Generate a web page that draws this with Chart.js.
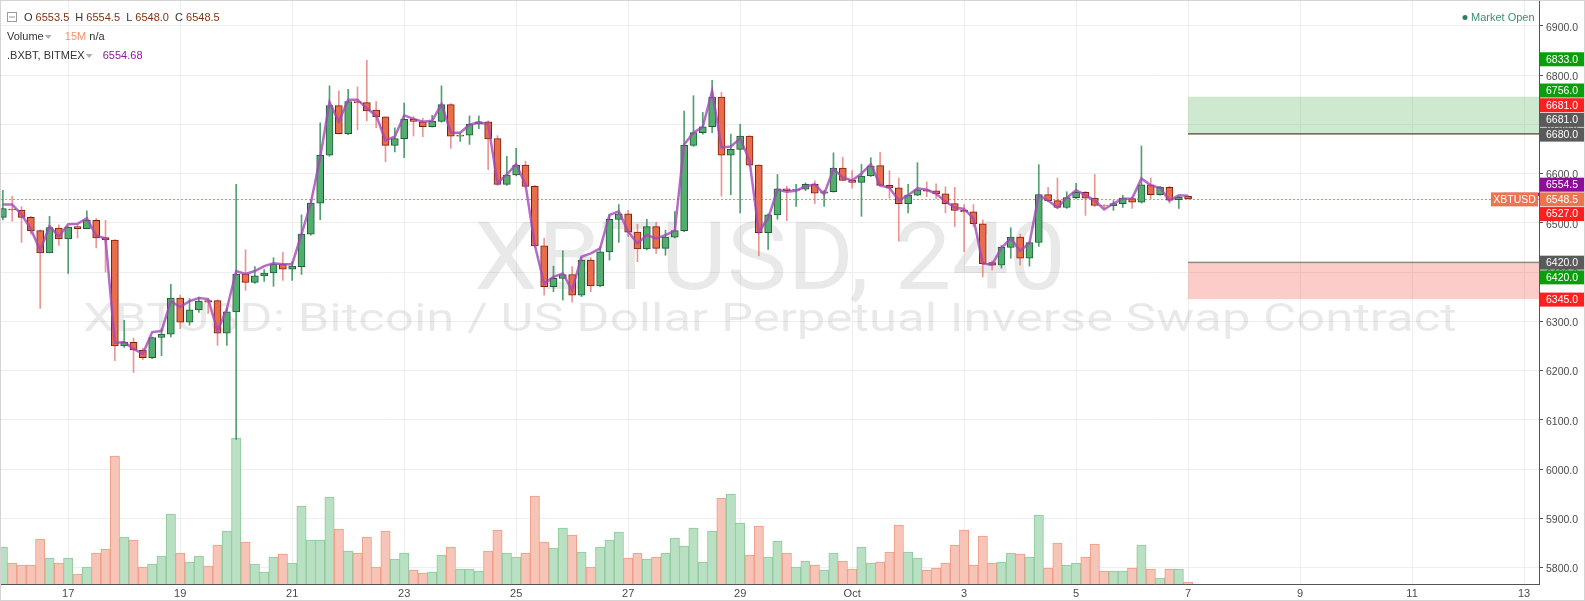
<!DOCTYPE html>
<html>
<head>
<meta charset="utf-8">
<script src="https://cdn.jsdelivr.net/npm/chart.js@4.4.1/dist/chart.umd.min.js"></script>
<style>
html, body { margin: 0; padding: 0; background: #fff; }
#wrap { width: 1585px; height: 601px; position: relative; }
</style>
</head>
<body>
<div id="wrap"><canvas id="chart"></canvas></div>
<script>
// XBTUSD 4h candles, Sep 15 20:00 -> Oct 7 00:00 (index 0 = first bar)
var opens = [6511,6528,6526,6511,6484,6439,6489,6467,6492,6488,
  6505,6470,6465,6250,6257,6241,6226,6267,6274,6347,
  6298,6323,6342,6342,6276,6319,6396,6379,6392,6398,
  6416,6406,6411,6477,6540,6637,6738,6681,6746,6744,
  6729,6715,6657,6671,6710,6705,6695,6706,6740,6676,
  6678,6700,6705,6671,6578,6597,6617,6574,6453,6370,
  6387,6395,6353,6424,6372,6441,6507,6518,6481,6447,
  6492,6448,6471,6484,6657,6683,6695,6755,6637,6649,
  6676,6617,6480,6516,6569,6566,6568,6578,6560,6563,
  6611,6586,6582,6595,6616,6576,6571,6539,6556,6567,
  6565,6559,6539,6525,6522,6498,6419,6414,6450,6471,
  6428,6460,6557,6545,6531,6551,6562,6550,6535,6534,
  6539,6549,6542,6577,6557,6572,6547,6553.5];
var highs = [6566,6554,6533,6513,6486,6513,6496,6492,6496,6524,
  6509,6505,6466,6302,6266,6245,6268,6285,6375,6353,
  6346,6349,6344,6344,6328,6578,6445,6411,6405,6429,
  6440,6421,6516,6546,6703,6778,6768,6771,6776,6830,
  6746,6715,6693,6743,6716,6712,6718,6778,6742,6682,
  6717,6717,6707,6677,6635,6651,6625,6576,6469,6412,
  6443,6411,6430,6429,6451,6516,6537,6525,6497,6507,
  6501,6485,6523,6727,6758,6724,6789,6765,6680,6700,
  6677,6618,6518,6598,6574,6578,6581,6585,6566,6642,
  6633,6606,6619,6632,6643,6606,6591,6578,6622,6583,
  6579,6573,6572,6537,6537,6506,6422,6454,6490,6477,
  6461,6618,6572,6591,6563,6580,6564,6598,6537,6545,
  6556,6552,6656,6591,6574,6574,6554,6554.5];
var lows = [6506,6503,6460,6477,6326,6439,6454,6397,6469,6488,
  6449,6400,6220,6247,6196,6222,6224,6230,6268,6285,
  6292,6318,6316,6251,6251,6060,6363,6377,6381,6371,
  6383,6383,6395,6475,6506,6635,6680,6679,6689,6707,
  6693,6624,6644,6632,6676,6675,6694,6704,6651,6665,
  6659,6691,6608,6576,6576,6595,6572,6450,6353,6360,
  6343,6339,6350,6360,6370,6424,6460,6472,6421,6445,
  6438,6434,6469,6482,6655,6680,6683,6554,6557,6520,
  6615,6433,6446,6507,6504,6533,6565,6539,6533,6562,
  6585,6570,6513,6594,6575,6550,6463,6520,6555,6553,
  6549,6520,6492,6441,6492,6390,6404,6408,6428,6414,
  6412,6452,6543,6529,6529,6549,6515,6533,6529,6525,
  6531,6529,6540,6549,6556,6540,6529,6548];
var closes = [6529,6526,6511,6484,6439,6490,6467,6491,6488,6505,
  6469,6465,6250,6257,6242,6226,6267,6274,6347,6298,
  6323,6341,6339,6276,6319,6396,6379,6392,6398,6416,
  6406,6412,6477,6540,6637,6738,6681,6746,6744,6727,
  6715,6657,6671,6710,6706,6695,6706,6740,6676,6678,
  6700,6705,6670,6578,6597,6617,6574,6453,6370,6387,
  6395,6353,6424,6372,6441,6507,6518,6481,6447,6492,
  6448,6471,6484,6657,6683,6695,6755,6637,6649,6676,
  6617,6480,6516,6569,6565,6568,6578,6560,6563,6611,
  6586,6582,6595,6615,6576,6571,6539,6556,6567,6564,
  6559,6539,6525,6522,6498,6417,6414,6450,6471,6428,
  6460,6557,6545,6531,6551,6562,6550,6535,6534,6539,
  6550,6542,6577,6557,6572,6546,6552,6548.5];
// volume per bar (relative units)
var volumes = [37,21,19,19,45,26,21,26,10,17,
  31,35,128,47,44,17,20,28,70,31,
  22,28,18,39,53,146,42,20,12,27,
  30,21,78,44,44,87,55,33,31,47,
  17,53,25,31,14,11,12,29,37,15,
  15,13,33,54,31,27,31,88,42,36,
  56,49,32,17,37,44,52,26,31,25,
  27,31,46,38,56,22,53,86,90,61,
  29,58,27,43,31,17,23,19,14,31,
  23,15,37,21,22,32,59,32,26,14,
  16,21,39,54,19,48,21,22,31,30,
  27,69,16,41,19,21,27,40,13,13,
  13,16,39,15,6,15,15,2];
// .BXBT index
var bxbt = [6537,6537,6517,6487,6444,6493,6472,6497,6498,6509,
  6474,6468,6256,6258,6244,6234,6278,6280,6341,6329,
  6341,6347,6345,6280,6325,6402,6396,6402,6412,6418,
  6416,6416,6477,6540,6632,6745,6705,6750,6750,6732,
  6718,6667,6675,6718,6711,6705,6707,6741,6683,6683,
  6699,6704,6700,6581,6598,6619,6578,6455,6376,6390,
  6397,6363,6431,6438,6448,6516,6523,6482,6458,6475,
  6468,6475,6484,6659,6683,6695,6768,6653,6655,6671,
  6627,6482,6509,6567,6563,6565,6574,6578,6558,6609,
  6592,6586,6600,6619,6576,6571,6545,6556,6570,6567,
  6559,6543,6531,6528,6509,6417,6415,6449,6468,6443,
  6459,6556,6545,6531,6551,6566,6556,6545,6527,6539,
  6549,6549,6590,6576,6571,6545,6556,6554.68];

var dayLabels = ['17','19','21','23','25','27','29','Oct','3','5','7','9','11','13'];
var firstLabelBar = 7;     // Sep 17 00:00
var barsPerLabel = 12;     // two days of 4h bars

// price tags on the right scale (placement order)
var tagPrices = [6680, 6548.5, 6420, 6681, 6681, 6756, 6833, 6554.5, 6527, 6420, 6345];
var tagColors = ['#5a5a5a','#ec7550','#5a5a5a','#5a5a5a','#ff1f1f','#0a9f0a','#0a9f0a','#8c0f98','#ff1f1f','#0a9f0a','#ff1f1f'];
var targetZone = [6680, 6756];
var stopZone = [6345, 6420];

var idx = closes.map(function(_, i) { return i; });
var last = closes.length - 1;
function up(i) { return closes[i] >= opens[i]; }

var TAG_H = 14.7;
function layoutTags(ys) {
  var placed = [];
  tagPrices.forEach(function(p, k) {
    var y = ys.getPixelForValue(p), dir = 0, n = 0;
    while (n++ < 20) {
      var hit = placed.find(function(t) { return Math.abs(t.y - y) < TAG_H - 0.01; });
      if (!hit) break;
      if (p > hit.price) dir = -1;
      else if (p < hit.price) dir = 1;
      else if (dir === 0) dir = 1;
      y = hit.y + dir * TAG_H;
    }
    placed.push({ price: p, y: y, color: tagColors[k] });
  });
  return placed;
}

function drawParts(ctx, x, y, parts) {
  parts.forEach(function(p) {
    if (p[0] === '▾') {
      ctx.fillStyle = '#b0b0b0';
      ctx.beginPath();
      ctx.moveTo(x + 1, y - 2); ctx.lineTo(x + 8, y - 2); ctx.lineTo(x + 4.5, y + 2);
      ctx.closePath(); ctx.fill();
      x += 12;
      return;
    }
    ctx.fillStyle = p[1];
    ctx.fillText(p[0], x, y);
    x += ctx.measureText(p[0]).width;
  });
}

function noPad(s) {
  s.paddingTop = 0; s.paddingBottom = 0; s.paddingLeft = 0; s.paddingRight = 0;
}

var decor = {
  id: 'decor',
  beforeDraw: function(chart) {
    var ctx = chart.ctx;
    ctx.save();
    ctx.fillStyle = '#ffffff';
    ctx.fillRect(0, 0, chart.width, chart.height);
    ctx.restore();
  },
  beforeDatasetsDraw: function(chart) {
    var ctx = chart.ctx, a = chart.chartArea;
    var xs = chart.scales.x, ys = chart.scales.y;
    var cx = (a.left + a.right) / 2, mid = (a.top + a.bottom) / 2;
    ctx.save();
    // watermark
    ctx.fillStyle = 'rgba(0,0,0,0.085)';
    ctx.textAlign = 'center';
    ctx.textBaseline = 'alphabetic';
    [['XBTUSD, 240', 95, 592, mid - 4],
     ['XBTUSD: Bitcoin / US Dollar Perpetual Inverse Swap Contract', 38, 1374, mid + 38]].forEach(function(w) {
      ctx.font = w[1] + 'px Roboto';
      var sx = w[2] / ctx.measureText(w[0]).width;
      ctx.save();
      ctx.translate(cx, w[3]);
      ctx.scale(sx, 1);
      ctx.fillText(w[0], 0, 0);
      ctx.restore();
    });
    // zones
    var zx = xs.getPixelForValue(last);
    var gy1 = ys.getPixelForValue(targetZone[1]), gy0 = ys.getPixelForValue(targetZone[0]);
    ctx.fillStyle = 'rgba(76,175,80,0.27)';
    ctx.fillRect(zx, gy1, a.right - zx, gy0 - gy1);
    ctx.fillStyle = '#7a5a4c';
    ctx.fillRect(zx, gy0 - 1, a.right - zx, 1.5);
    var ry1 = ys.getPixelForValue(stopZone[1]), ry0 = ys.getPixelForValue(stopZone[0]);
    ctx.fillStyle = 'rgba(244,67,54,0.27)';
    ctx.fillRect(zx, ry1, a.right - zx, ry0 - ry1);
    ctx.fillStyle = '#8c8c80';
    ctx.fillRect(zx, ry1 - 0.5, a.right - zx, 1.5);
    // last price line
    var py = Math.round(ys.getPixelForValue(closes[last])) + 0.5;
    ctx.strokeStyle = '#f0876a';
    ctx.lineWidth = 1;
    ctx.setLineDash([2, 2]);
    ctx.beginPath(); ctx.moveTo(a.left, py); ctx.lineTo(a.right, py); ctx.stroke();
    ctx.restore();
  },
  afterDraw: function(chart) {
    var ctx = chart.ctx, a = chart.chartArea, ys = chart.scales.y;
    ctx.save();
    // index marker near the scale
    var iy = ys.getPixelForValue(bxbt[last]);
    ctx.fillStyle = '#8c0f98';
    ctx.fillRect(a.right - 36, iy - 3, 36, 3);
    // tags
    ctx.font = '10.5px "Liberation Sans"';
    ctx.textBaseline = 'middle';
    var tags = layoutTags(ys);
    tags.forEach(function(t) {
      ctx.fillStyle = t.color;
      ctx.fillRect(a.right + 1, t.y - 6.5, chart.width - a.right - 1, 14);
      ctx.fillStyle = '#ffffff';
      ctx.textAlign = 'left';
      ctx.fillText(t.price.toFixed(1), a.right + 7, t.y + 1);
    });
    var main = tags[1];
    ctx.fillStyle = main.color;
    ctx.fillRect(a.right - 48, main.y - 6.5, 47, 14);
    ctx.fillStyle = '#ffffff';
    ctx.textAlign = 'center';
    ctx.fillText('XBTUSD', a.right - 24.5, main.y + 1);
    // legend header
    ctx.textAlign = 'left';
    ctx.font = '11px "Liberation Sans"';
    ctx.strokeStyle = '#9a9a9a';
    ctx.lineWidth = 1;
    ctx.strokeRect(7.5, 12.5, 9, 9);
    ctx.beginPath(); ctx.moveTo(9, 17); ctx.lineTo(15, 17); ctx.stroke();
    var val = '#7b3414', txt = '#333333';
    drawParts(ctx, 24, 18, [['O ', txt], [opens[last].toFixed(1), val], ['  H ', txt], [highs[last].toFixed(1), val],
      ['  L ', txt], [lows[last].toFixed(1), val], ['  C ', txt], [closes[last].toFixed(1), val]]);
    drawParts(ctx, 7, 37, [['Volume', txt], ['▾'], ['   ', txt], ['15M', '#f7916c'], [' n/a', txt]]);
    drawParts(ctx, 7, 56, [['.BXBT, BITMEX', txt], ['▾'], ['  ', txt], [bxbt[last].toFixed(2), '#8c1a9a']]);
    // market status
    ctx.fillStyle = '#2f7d5c';
    ctx.beginPath(); ctx.arc(1465, 17.5, 2.5, 0, Math.PI * 2); ctx.fill();
    ctx.fillStyle = '#3c8f73';
    ctx.fillText('Market Open', 1471, 18);
    // frame
    ctx.strokeStyle = '#d4d4d4';
    ctx.strokeRect(0.5, 0.5, chart.width - 1, chart.height - 1);
    ctx.restore();
  }
};

new Chart(document.getElementById('chart'), {
  type: 'bar',
  data: {
    datasets: [{
      label: 'Volume',
      data: idx.map(function(i) { return { x: i, y: volumes[i] }; }),
      yAxisID: 'yv',
      backgroundColor: function(c) { return up(c.dataIndex) ? '#b9e0c3' : '#f7c5b7'; },
      borderColor: function(c) { return up(c.dataIndex) ? '#8dca9c' : '#f09a82'; },
      borderWidth: 1,
      barPercentage: 1,
      categoryPercentage: 1,
      grouped: false,
      order: 4
    }, {
      label: 'Wicks',
      data: idx.map(function(i) { return { x: i, y: [lows[i], highs[i]] }; }),
      yAxisID: 'y',
      backgroundColor: function(c) { return up(c.dataIndex) ? 'rgba(40,135,75,0.8)' : 'rgba(226,92,92,0.65)'; },
      barThickness: 1,
      grouped: false,
      order: 3
    }, {
      label: 'XBTUSD',
      data: idx.map(function(i) { return { x: i, y: [opens[i], closes[i]] }; }),
      yAxisID: 'y',
      backgroundColor: function(c) { return up(c.dataIndex) ? '#52ae6e' : '#e96d4a'; },
      borderColor: function(c) { return up(c.dataIndex) ? '#1e5c34' : '#7a1f0f'; },
      borderWidth: 1,
      borderSkipped: false,
      barThickness: 7,
      grouped: false,
      order: 2
    }, {
      type: 'line',
      label: '.BXBT',
      data: idx.map(function(i) { return { x: i, y: bxbt[i] }; }),
      yAxisID: 'y',
      borderColor: 'rgba(165,70,185,0.8)',
      borderWidth: 2.5,
      pointRadius: 0,
      tension: 0,
      order: 1
    }]
  },
  options: {
    responsive: true,
    maintainAspectRatio: false,
    animation: false,
    events: [],
    layout: { padding: { top: 1, left: 1, right: 0, bottom: 0 } },
    plugins: { legend: { display: false }, tooltip: { enabled: false } },
    scales: {
      x: {
        type: 'linear',
        min: -0.2,
        max: 164.6,
        offset: false,
        afterBuildTicks: function(s) {
          s.ticks = dayLabels.map(function(_, k) { return { value: firstLabelBar + k * barsPerLabel }; });
        },
        ticks: {
          autoSkip: false,
          maxRotation: 0,
          padding: 3,
          color: '#4a4a4a',
          font: { family: 'Liberation Sans', size: 11 },
          callback: function(v) { return dayLabels[Math.round((v - firstLabelBar) / barsPerLabel)]; }
        },
        grid: { color: '#eeeeee', drawTicks: false, offset: false },
        border: { color: '#555555', width: 1 },
        afterFit: function(s) { s.height = 17; noPad(s); }
      },
      y: {
        type: 'linear',
        position: 'right',
        min: 5766.5,
        max: 6950.3,
        ticks: {
          stepSize: 100,
          includeBounds: false,
          padding: 3,
          labelOffset: 2,
          color: '#4a4a4a',
          font: { family: 'Liberation Sans', size: 10.5 },
          callback: function(v) { return v.toFixed(1); }
        },
        grid: { color: '#eeeeee', tickLength: 4, tickColor: '#555555' },
        border: { color: '#555555', width: 1 },
        afterFit: function(s) { s.width = 46; noPad(s); }
      },
      yv: { type: 'linear', display: false, min: 0, max: 583 }
    }
  },
  plugins: [decor]
});
</script>
</body>
</html>
